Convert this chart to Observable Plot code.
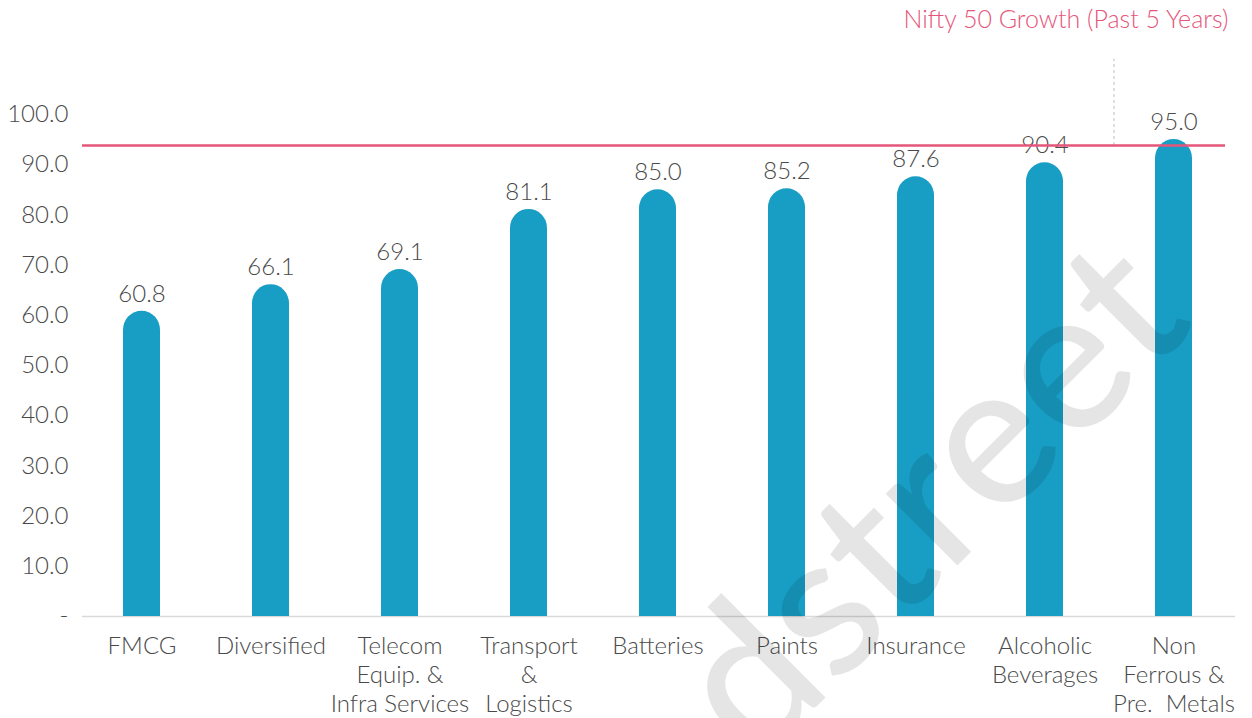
<!DOCTYPE html>
<html>
<head>
<meta charset="utf-8">
<script src="https://cdn.jsdelivr.net/npm/d3@7"></script>
<script src="https://cdn.jsdelivr.net/npm/@observablehq/plot@0.6"></script>
<style>
  html, body { margin: 0; padding: 0; background: #ffffff; }
  #chart svg { display: block; }
</style>
</head>
<body>
<div id="chart"></div>
<script>
// ---- data ----
const categories = [
  "FMCG",
  "Diversified",
  "Telecom\nEquip. &\nInfra Services",
  "Transport\n&\nLogistics",
  "Batteries",
  "Paints",
  "Insurance",
  "Alcoholic\nBeverages",
  "Non\nFerrous &\nPre.  Metals"
];
const values = [60.8, 66.1, 69.1, 81.1, 85.0, 85.2, 87.6, 90.4, 95.0];
const yTicks = [0, 10, 20, 30, 40, 50, 60, 70, 80, 90, 100];
const benchmarkValue = 93.8;
const benchmarkLabel = "Nifty 50 Growth (Past 5 Years)";
const leaderTop = 111;
const watermark = "dstreet";

// ---- build ----
const data = categories.map((c, i) => ({ category: c, value: values[i] }));
const font = "Lato, 'Open Sans', 'DejaVu Sans', sans-serif";
const textColor = "#4a4a4a";
const barColor = "#189dc4";
const pink = "#e5567a";

const chart = Plot.plot({
  width: 1252,
  height: 718,
  marginLeft: 76,
  marginRight: 12,
  marginTop: 114,
  marginBottom: 102,
  style: { fontFamily: font, fontSize: "24px", fontWeight: 300, color: textColor, background: "#ffffff", overflow: "visible" },
  x: { domain: categories, paddingInner: 0.71, paddingOuter: 0.355, label: null },
  y: { domain: [0, 100], label: null },
  marks: [
    Plot.axisY({
      ticks: yTicks,
      tickSize: 0,
      tickPadding: 8,
      tickFormat: d => d === 0 ? "-" : d.toFixed(1),
      fontSize: 24,
      fontWeight: 300,
      fill: textColor,
      label: null
    }),
    Plot.axisX({
      tickSize: 0,
      tickPadding: 17,
      fontSize: 24,
      fontWeight: 300,
      lineHeight: 1.21,
      fill: textColor,
      label: null
    }),
    Plot.ruleY([0], { stroke: "#d9d9d9", strokeWidth: 1.5, insetLeft: 6, insetRight: 5 }),
    // bars with rounded caps
    Plot.barY(data, { x: "category", y: "value", fill: barColor, rx: 19, ry: 19 }),
    Plot.barY(data, { x: "category", y1: 0, y2: d => d.value / 2, fill: barColor }),
    // value labels
    Plot.text(data, {
      x: "category", y: "value",
      text: d => d.value.toFixed(1),
      dy: -17, fontSize: 24, fontWeight: 300, fill: textColor
    }),
    // benchmark
    Plot.ruleX([categories[categories.length - 1]], {
      y1: benchmarkValue, y2: leaderTop,
      dx: -60, stroke: "#c8c8c8", strokeWidth: 1.2, strokeDasharray: "3,3"
    }),
    Plot.ruleY([benchmarkValue], { stroke: pink, strokeWidth: 2.5, insetLeft: 6, insetRight: 15 }),
    Plot.text([benchmarkLabel], {
      frameAnchor: "top-right", textAnchor: "end", lineAnchor: "middle",
      dx: -12, dy: -95, fontSize: 25, fontWeight: 300, fill: pink
    }),
    // watermark
    Plot.text([watermark], {
      frameAnchor: "top-left", textAnchor: "middle", lineAnchor: "bottom",
      dx: 900, dy: 432, rotate: -45, fontSize: 200, fontWeight: 500, fill: "#000000", fillOpacity: 0.1
    })
  ]
});

document.getElementById("chart").appendChild(chart);
</script>
</body>
</html>
